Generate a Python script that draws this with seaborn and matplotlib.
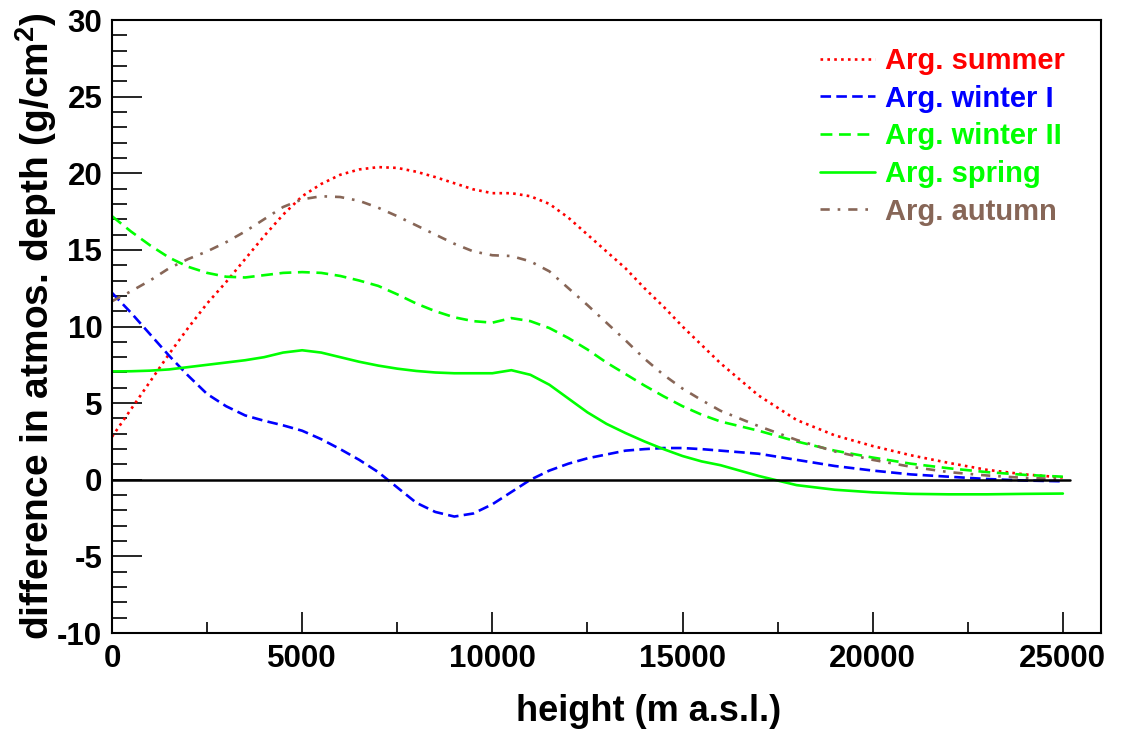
import pandas as pd
import numpy as np
import matplotlib
matplotlib.use("Agg")
import matplotlib.pyplot as plt
import matplotlib.ticker as ticker
import seaborn as sns

# heights (m a.s.l.)
heights = [0, 500, 1000, 1500, 2000, 2500, 3000, 3500, 4000, 4500,
           5000, 5500, 6000, 6500, 7000, 7500, 8000, 8500, 9000, 9500,
           10000, 10500, 11000, 11500, 12000, 12500, 13000, 13500, 14000, 14500,
           15000, 15500, 16000, 17000, 18000, 19000, 20000, 21000, 22000, 23000,
           24000, 25000]

# difference in atmospheric depth (g/cm2)
summer = [2.8, 4.6, 6.4, 8.2, 9.9, 11.5, 12.9, 14.4, 15.9, 17.3,
          18.5, 19.3, 19.9, 20.25, 20.4, 20.35, 20.1, 19.75, 19.35, 18.95,
          18.7, 18.7, 18.5, 18.0, 17.1, 16.0, 14.9, 13.8, 12.5, 11.3,
          10.0, 8.8, 7.6, 5.5, 3.9, 2.9, 2.2, 1.6, 1.1, 0.65,
          0.35, 0.15]
winter1 = [12.2, 10.9, 9.5, 8.1, 6.8, 5.6, 4.8, 4.2, 3.85, 3.55,
           3.2, 2.65, 2.0, 1.3, 0.5, -0.5, -1.5, -2.1, -2.4, -2.2,
           -1.6, -0.8, 0.0, 0.6, 1.05, 1.4, 1.65, 1.9, 2.0, 2.07,
           2.07, 2.0, 1.9, 1.7, 1.3, 0.9, 0.6, 0.35, 0.2, 0.05,
           -0.05, -0.1]
winter2 = [17.2, 16.2, 15.3, 14.5, 13.9, 13.5, 13.25, 13.2, 13.35, 13.5,
           13.55, 13.5, 13.3, 13.0, 12.65, 12.1, 11.5, 11.0, 10.6, 10.35,
           10.25, 10.55, 10.35, 9.9, 9.25, 8.5, 7.65, 6.9, 6.15, 5.45,
           4.8, 4.25, 3.8, 3.2, 2.5, 1.9, 1.45, 1.05, 0.75, 0.5,
           0.32, 0.2]
spring = [7.07, 7.08, 7.12, 7.2, 7.35, 7.5, 7.65, 7.8, 8.0, 8.3,
          8.45, 8.3, 8.0, 7.7, 7.45, 7.25, 7.1, 7.0, 6.95, 6.95,
          6.95, 7.15, 6.85, 6.2, 5.3, 4.4, 3.65, 3.05, 2.5, 2.0,
          1.55, 1.2, 0.95, 0.25, -0.35, -0.65, -0.82, -0.92, -0.95, -0.95,
          -0.92, -0.9]
autumn = [11.65, 12.3, 13.0, 13.8, 14.4, 14.9, 15.5, 16.2, 17.0, 17.8,
          18.3, 18.5, 18.45, 18.2, 17.75, 17.2, 16.6, 16.0, 15.4, 14.9,
          14.65, 14.6, 14.25, 13.6, 12.5, 11.4, 10.25, 9.1, 7.9, 6.85,
          5.95, 5.2, 4.5, 3.5, 2.6, 1.85, 1.3, 0.85, 0.5, 0.28,
          0.12, 0.05]

zero_x = [0, 25200]
zero_y = [0, 0]

labels = ["Arg. summer", "Arg. winter I", "Arg. winter II", "Arg. spring", "Arg. autumn"]
colors = ["#ff0000", "#0000ff", "#00ff00", "#00ff00", "#876657"]
styles = [(0, (1, 1.6)), (0, (4, 2)), (0, (4.5, 2.5)), "-", (0, (3.5, 3, 1, 3))]

sns.set_style("ticks")
plt.rcParams["font.family"] = ["Liberation Sans", "DejaVu Sans"]
plt.rcParams["axes.unicode_minus"] = False
plt.rcParams["text.color"] = "black"
plt.rcParams["axes.labelcolor"] = "black"
plt.rcParams["mathtext.fontset"] = "custom"
plt.rcParams["mathtext.rm"] = "Liberation Sans:bold"
plt.rcParams["mathtext.bf"] = "Liberation Sans:bold"

fig = plt.figure(figsize=(11.22, 7.33), dpi=100)
ax = fig.add_axes([0.0998, 0.1364, 0.8814, 0.8363])

series = [summer, winter1, winter2, spring, autumn]
for vals, lab, col, ls in zip(series, labels, colors, styles):
    sns.lineplot(x=heights, y=vals, color=col, linestyle=ls, linewidth=1.9, label=lab, ax=ax)

sns.lineplot(x=zero_x, y=zero_y, color="black", linewidth=1.8, ax=ax)

ax.set_xlim(0, 26000)
ax.set_ylim(-10, 30)

ax.xaxis.set_major_locator(ticker.MultipleLocator(5000))
ax.xaxis.set_minor_locator(ticker.MultipleLocator(2500))
ax.yaxis.set_major_locator(ticker.MultipleLocator(5))
ax.yaxis.set_minor_locator(ticker.MultipleLocator(1))

ax.tick_params(axis="both", which="both", direction="in", top=False, right=False,
               width=1.2, colors="black", labelsize=22.5)
ax.tick_params(axis="y", which="major", length=21.5, pad=7)
ax.tick_params(axis="y", which="minor", length=10.8)
ax.tick_params(axis="x", which="major", length=15, pad=8)
ax.tick_params(axis="x", which="minor", length=8)
for lbl in ax.get_xticklabels() + ax.get_yticklabels():
    lbl.set_fontweight("bold")

for sp in ax.spines.values():
    sp.set_linewidth(1.5)
    sp.set_color("black")

ax.set_xlabel("height (m a.s.l.)", fontsize=26, fontweight="bold")
ax.set_ylabel("difference in atmos. depth (g/cm$^\\mathregular{2}$)", fontsize=28, fontweight="bold")
ax.xaxis.set_label_coords(0.543, -0.1)
ax.yaxis.set_label_coords(-0.054, 0.5)

leg = ax.legend(loc="upper right", bbox_to_anchor=(0.975, 0.975), frameon=False,
                fontsize=21, handlelength=1.9, handletextpad=0.32, labelspacing=0.33,
                labelcolor="linecolor", borderaxespad=0)
for t in leg.get_texts():
    t.set_fontweight("bold")

fig.savefig("out.png", dpi=100, facecolor="white")
